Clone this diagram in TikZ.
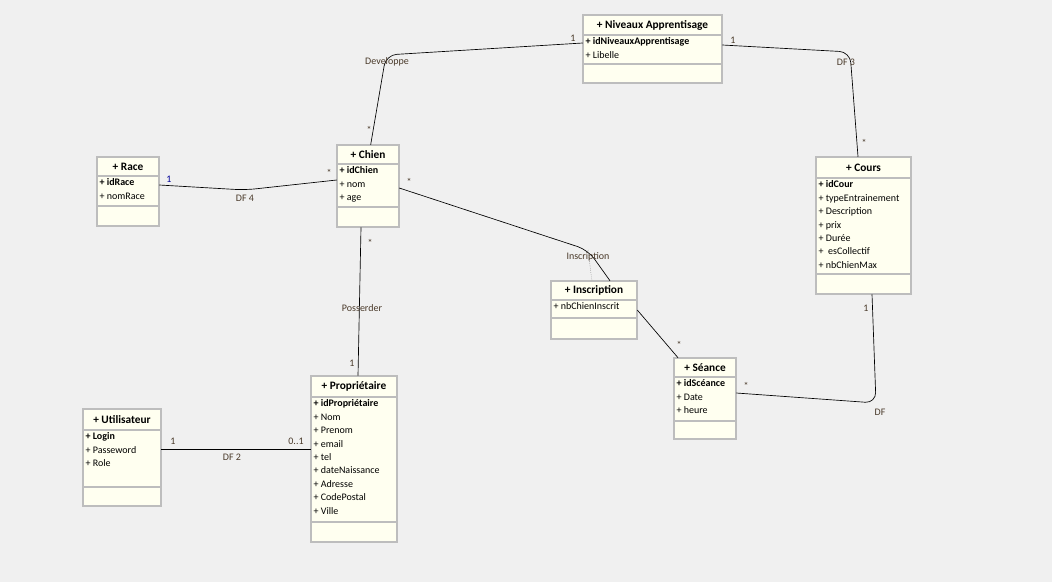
\documentclass[tikz,border=0pt]{standalone}
\usepackage{fontspec}
\setmainfont{Carlito}
\usetikzlibrary{fit}
\definecolor{bgcol}{HTML}{F0F0F0}
\definecolor{boxfill}{HTML}{FFFFF0}
\definecolor{boxline}{HTML}{BDBDBD}
\definecolor{lblcol}{HTML}{4A3A2A}
\newcommand\umlclass[9]{%
  \draw[box] (#2,#3) rectangle (#4,#5);
  \draw[box] (#2,#6) -- (#4,#6) (#2,#7) -- (#4,#7);
  \node[fit={(#2,#3)(#4,#5)},inner sep=0pt] (#1) {};
  \node[font=\bfseries\fontsize{8.5}{10}\selectfont] at ({(#2+#4)/2},{(#3+#6)/2}) {+ #8};
  \node[attr] at (#2+1,#6+1) {#9};
}
\begin{document}
\begin{tikzpicture}[x=0.75pt,y=-0.75pt,font=\fontsize{7.5}{10.1}\selectfont,
    box/.style={draw=boxline,fill=boxfill,line width=0.8pt},
    attr/.style={anchor=north west,align=left,inner sep=1pt},
    assoc/.style={draw=black,line width=0.5pt,rounded corners=8pt},
    mult/.style={text=lblcol,inner sep=1pt}]
\fill[bgcol] (0,0) rectangle (1052,582);
\useasboundingbox (0,0) rectangle (1052,582);
% classes
\umlclass{niveaux}{583}{15}{722}{83}{35}{64}{Niveaux Apprentisage}{\textbf{+ idNiveauxApprentisage}\\+ Libelle}
\umlclass{chien}{337}{145}{399}{227}{164}{207}{Chien}{\textbf{+ idChien}\\+ nom\\+ age}
\umlclass{race}{97}{157}{159}{226}{176}{206}{Race}{\textbf{+ idRace}\\+ nomRace}
\umlclass{cours}{816}{157}{911}{294}{178}{274}{Cours}{\textbf{+ idCour}\\+ typeEntrainement\\+ Description\\+ prix\\+ Durée\\+ \ esCollectif\\+ nbChienMax}
\umlclass{inscription}{551}{281}{637}{339}{300}{318}{Inscription}{+ nbChienInscrit}
\umlclass{seance}{674}{358}{736}{439}{377}{421}{Séance}{\textbf{+ idSc\'eance}\\+ Date\\+ heure}
\umlclass{proprio}{311}{376}{397}{542}{397}{522}{Propriétaire}{\textbf{+ idPropri\'etaire}\\+ Nom\\+ Prenom\\+ email\\+ tel\\+ dateNaissance\\+ Adresse\\+ CodePostal\\+ Ville}
\umlclass{user}{83}{409}{161}{506}{430}{487}{Utilisateur}{\textbf{+ Login}\\+ Passeword\\+ Role}
% associations
\coordinate (dev) at (386,55);
\coordinate (df3) at (850,52);
\coordinate (df4) at (245,190);
\coordinate (insc) at (588,250);
\coordinate (df) at (876,403);
\draw[assoc] ([xshift=2pt]chien.north) -- (dev) -- (niveaux.west |- 0,43);
\draw[assoc] (niveaux.east |- 0,45) -- (df3) -- (cours.north -| 858,0);
\draw[assoc] (race.east |- 0,185) -- (df4) -- (chien.west |- 0,180);
\draw[assoc] (chien.east |- 0,188) -- (insc) -- (inscription.north -| 610,0);
\draw[densely dotted,gray] (insc) -- (inscription.north -| 592,0);
\draw[assoc] (inscription.east |- 0,310) -- (seance.north -| 678,0);
\draw[assoc] (seance.east |- 0,393) -- (df) -- (cours.south -| 872,0);
\draw[assoc] (chien.south -| 361,0) -- (proprio.north -| 358,0);
\draw[assoc] (user.east |- 0,449) -- (proprio.west |- 0,449);
% labels
\node[mult] at (387,62) {Developpe};
\node[mult] at (369,130) {*};
\node[mult] at (573,38) {1};
\node[mult] at (733,40) {1};
\node[mult] at (846,62) {DF 3};
\node[mult] at (864,143) {*};
\node[mult,text=blue!60!black] at (169,179) {1};
\node[mult] at (245,198) {DF 4};
\node[mult] at (329,173) {*};
\node[mult] at (409,182) {*};
\node[mult] at (588,257) {Inscription};
\node[mult] at (679,345) {*};
\node[mult] at (746,386) {*};
\node[mult] at (866,308) {1};
\node[mult] at (880,412) {DF};
\node[mult] at (370,243) {*};
\node[mult] at (362,308) {Posserder};
\node[mult] at (352,363) {1};
\node[mult] at (173,441) {1};
\node[mult] at (296,441) {0..1};
\node[mult] at (232,457) {DF 2};
\end{tikzpicture}
\end{document}
